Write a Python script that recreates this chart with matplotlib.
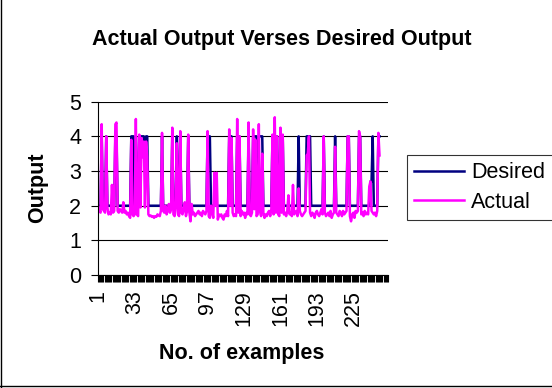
import matplotlib.pyplot as plt
import numpy as np

# values, one per example
desired = [2, 2, 2, 4, 2, 2, 2, 4, 2, 2,
           2, 2, 2, 2, 2, 4, 4, 2, 2, 2,
           2, 2, 2, 2, 2, 2, 2, 2, 2, 4,
           4, 4, 2, 4, 2, 2, 4, 4, 4, 4,
           4, 3.4, 4, 4, 2, 2, 2, 2, 2, 2,
           2, 2, 2, 2, 2, 2, 4, 2, 2, 2,
           2, 2, 2, 2, 2, 4, 2, 2, 2, 4,
           2, 2, 4, 2, 2, 2, 2, 2, 2, 4,
           2, 2, 2, 2, 2, 2, 2, 2, 2, 2,
           2, 2, 2, 2, 2, 2, 4, 4, 4, 2,
           2, 2, 2, 2, 2, 2, 2, 2, 2, 2,
           2, 2, 2, 2, 2, 4, 4, 4, 2, 2,
           2, 2, 4, 2, 4, 2, 2, 2, 2, 2,
           2, 2, 4, 2, 2, 2, 4, 4, 4, 4,
           2, 4, 4, 4, 4, 2, 2, 2, 2, 2,
           2, 2, 2, 4, 2, 4, 4, 4, 2, 2,
           4, 2, 4, 2, 2, 2, 2, 2, 2, 2,
           2, 2, 2, 2, 2, 2, 4, 2, 2, 2,
           2, 2, 2, 4, 4, 4, 4, 2, 2, 2,
           2, 2, 2, 2, 2, 2, 2, 2, 4, 2,
           2, 2, 2, 2, 2, 2, 2, 2, 4, 2,
           2, 2, 2, 2, 2, 2, 2, 2, 2, 4,
           4, 2, 2, 2, 2, 2, 2, 2, 2, 4,
           4, 2, 2, 2, 2, 2, 2, 2, 2, 2.7,
           2.7, 4, 2, 2, 2, 2, 4, 4]

actual = [1.95, 1.85, 1.80, 4.35, 1.90, 1.85, 1.80, 4.00, 1.95, 1.75,
          1.80, 1.75, 2.60, 1.80, 1.85, 4.35, 4.40, 1.85, 1.80, 1.90,
          1.85, 1.80, 2.10, 1.80, 1.85, 1.75, 1.80, 1.70, 1.65, 3.90,
          1.75, 1.70, 1.75, 4.50, 1.75, 1.70, 4.05, 1.95, 3.95, 3.40,
          3.85, 1.95, 3.85, 3.40, 1.75, 1.70, 1.72, 1.68, 1.70, 1.65,
          1.70, 1.68, 1.75, 1.72, 1.70, 1.85, 4.10, 1.85, 1.80, 2.00,
          1.75, 1.85, 2.05, 1.80, 1.90, 4.25, 1.75, 1.70, 2.00, 3.80,
          1.75, 1.70, 4.15, 1.80, 1.75, 1.90, 2.10, 1.70, 1.85, 4.05,
          1.80, 1.55, 2.05, 1.75, 1.80, 1.70, 1.75, 1.80, 1.85, 1.75,
          1.80, 1.70, 1.85, 1.80, 1.75, 1.85, 4.15, 1.70, 1.65, 2.00,
          1.80, 1.65, 2.95, 2.00, 2.95, 1.60, 1.75, 1.70, 1.75, 1.65,
          1.60, 1.75, 1.70, 1.85, 1.70, 4.20, 2.00, 3.95, 1.80, 1.70,
          1.75, 1.70, 4.50, 1.80, 4.00, 1.70, 1.85, 1.75, 1.80, 1.65,
          1.80, 1.75, 4.40, 1.75, 1.70, 1.80, 4.20, 1.90, 3.90, 1.70,
          1.75, 4.35, 1.85, 1.70, 3.50, 1.80, 1.65, 1.75, 1.70, 1.80,
          1.85, 1.70, 1.90, 4.05, 1.75, 4.55, 1.80, 4.00, 1.75, 1.70,
          4.25, 1.80, 4.05, 1.75, 1.80, 1.70, 1.85, 2.30, 1.75, 1.80,
          1.70, 2.60, 1.75, 1.80, 1.85, 1.70, 2.50, 1.85, 1.75, 1.70,
          1.75, 1.80, 1.85, 3.45, 3.50, 4.00, 1.80, 1.70, 1.80, 1.75,
          1.65, 1.80, 1.85, 1.75, 1.70, 1.80, 1.90, 1.75, 4.00, 1.80,
          1.70, 1.75, 1.80, 1.70, 1.85, 1.65, 1.75, 1.80, 3.70, 1.80,
          1.75, 1.70, 1.85, 1.80, 1.70, 1.85, 1.75, 1.80, 1.85, 4.00,
          4.00, 1.70, 1.55, 1.75, 1.80, 1.65, 1.85, 1.80, 1.85, 4.15,
          4.00, 1.75, 1.80, 1.70, 1.85, 1.75, 1.80, 1.75, 2.55, 2.70,
          1.85, 1.80, 1.75, 1.80, 1.70, 1.85, 4.10, 3.45]

examples = np.arange(1, len(desired) + 1)
n_slots = 255
tick_labels = [1, 33, 65, 97, 129, 161, 193, 225]

plt.rcParams['font.family'] = ['Liberation Sans', 'DejaVu Sans']
fs = 15.5

fig = plt.figure(figsize=(5.52, 3.88), dpi=100)
ax = fig.add_axes([0.177, 0.291, 0.526, 0.447])

ax.plot(examples, desired, color='#000080', lw=1.8, label='Desired')
ax.plot(examples, actual, color='#ff00ff', lw=1.8, label='Actual')

ax.set_xlim(0.5, n_slots + 0.5)
ax.set_ylim(0, 5)
ax.set_yticks(range(6))
ax.grid(axis='y', color='black', lw=0.8)
ax.set_axisbelow(True)

ax.set_xticks(tick_labels)
ax.set_xticklabels(tick_labels, rotation=90, fontsize=fs)
ax.set_xticks(np.arange(0.5, n_slots + 1), minor=True)
ax.tick_params(axis='x', which='major', length=0, pad=11)
ax.tick_params(axis='x', which='minor', length=5, width=0.8, direction='out')
ax.tick_params(axis='y', length=5, width=0.8, labelsize=fs, pad=7)
for s in ['top', 'right']:
    ax.spines[s].set_visible(False)
for s in ['left', 'bottom']:
    ax.spines[s].set_linewidth(0.8)

fig.text(0.51, 0.897, 'Actual Output Verses Desired Output', ha='center', va='center',
         fontsize=fs, fontweight='bold')
fig.text(0.069, 0.515, 'Output', rotation=90, ha='center', va='center',
         fontsize=fs, fontweight='bold')
fig.text(0.438, 0.09, 'No. of examples', ha='center', va='center',
         fontsize=fs, fontweight='bold')

leg = fig.legend(loc='center left', bbox_to_anchor=(0.737, 0.517), fontsize=fs,
                 frameon=True, fancybox=False, handlelength=2.3, handletextpad=0.33,
                 labelspacing=0.4, borderpad=0.35, borderaxespad=0)
leg.get_frame().set_edgecolor('black')
leg.get_frame().set_linewidth(0.8)

# chart area border (left and bottom edges visible)
fig.add_artist(plt.Line2D([0.001, 0.001], [0, 1], color='black', lw=1, transform=fig.transFigure))
fig.add_artist(plt.Line2D([0, 1], [0.006, 0.006], color='black', lw=1, transform=fig.transFigure))

fig.savefig('out.png', facecolor='w')
